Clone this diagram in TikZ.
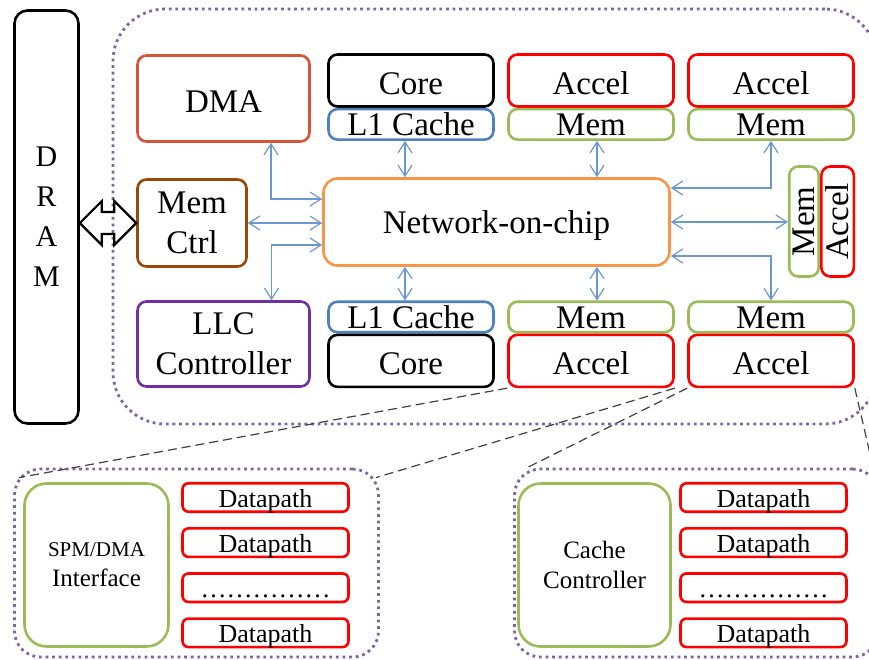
\documentclass[tikz,border=0pt]{standalone}
\usepackage{fontspec}
\setmainfont{Liberation Serif}
\usepackage{graphicx}
\usetikzlibrary{arrows.meta, positioning}
\definecolor{dmared}{RGB}{214,84,56}
\definecolor{cacheblue}{RGB}{79,129,189}
\definecolor{memgreen}{RGB}{155,187,89}
\definecolor{ctrlbrown}{RGB}{152,72,7}
\definecolor{nocorange}{RGB}{247,150,70}
\definecolor{llcpurple}{RGB}{112,48,160}
\definecolor{chippurple}{RGB}{128,100,162}
\definecolor{linkblue}{RGB}{108,152,210}
\newcommand{\chipfont}{\fontsize{33}{40}\selectfont}
\newcommand{\pathfont}{\fontsize{26}{30}\selectfont}

\begin{document}
\begin{tikzpicture}[x=1pt, y=-1pt,
   box/.style={draw, line width=2.6pt, rounded corners=9pt, inner sep=0pt,
               align=center, font=\chipfont},
   oneline/.style={text height=27pt, text depth=0pt},
   thinline/.style={text height=23pt, text depth=0pt},
   drambox/.style={box, draw=black, minimum width=64pt, minimum height=413pt,
                   rounded corners=13pt, font=\fontsize{30}{40}\selectfont},
   dmabox/.style={box, oneline, draw=dmared, minimum width=172pt, minimum height=86pt},
   corebox/.style={box, oneline, draw=black, minimum width=165pt, minimum height=52pt},
   l1box/.style={box, thinline, draw=cacheblue, minimum width=165pt, minimum height=30.5pt},
   accbox/.style={box, oneline, draw=red, minimum width=165pt, minimum height=52pt},
   membox/.style={box, thinline, draw=memgreen, minimum width=165pt, minimum height=30.5pt},
   ctrlbox/.style={box, draw=ctrlbrown, minimum width=109pt, minimum height=87pt},
   nocbox/.style={box, draw=nocorange, minimum width=346pt, minimum height=87pt,
                  rounded corners=14pt, text depth=0pt},
   llcbox/.style={box, draw=llcpurple, minimum width=172pt, minimum height=85pt},
   vmembox/.style={box, draw=memgreen, minimum width=29.5pt, minimum height=110pt},
   vaccbox/.style={box, draw=red, minimum width=32.5pt, minimum height=110pt},
   ifbox/.style={box, draw=memgreen, minimum height=163pt, rounded corners=22pt,
                 font=\fontsize{25}{30}\selectfont},
   dpbox/.style={box, draw=red, minimum width=166pt, minimum height=28.5pt,
                 rounded corners=6pt, font=\pathfont, text height=20pt, text depth=0pt},
   dotbox/.style={draw=chippurple, line width=2.8pt, dash pattern=on 2.8pt off 3.8pt,
                  rounded corners=26pt, inner sep=0pt},
   link/.style={{Straight Barb[length=11pt,width=14pt]}-{Straight Barb[length=11pt,width=14pt]},
                linkblue, line width=1.2pt},
   zoomline/.style={black!75, line width=1.2pt, dash pattern=on 9pt off 5pt},
   bus/.style={draw=black, line width=2.2pt, line join=miter}]

 \clip (0,0) rectangle (869,659);

 % chip outline
 \node[dotbox, minimum width=764pt, minimum height=415pt, rounded corners=52pt] (chip) at (495,216.5) {};

 \node[drambox] (dram) at (46.5,217) {D\\R\\A\\M};
 \node[dmabox] (dma) at (223.5,98.5) {DMA};
 \node[corebox] (core1) at (411,80.5) {Core};
 \node[l1box, below=0pt of core1] (l1a) {L1 Cache};
 \node[accbox] (acc1) at (591,80.5) {Accel};
 \node[membox, below=0pt of acc1] (mem1) {Mem};
 \node[accbox] (acc2) at (771,80.5) {Accel};
 \node[membox, below=0pt of acc2] (mem2) {Mem};

 \node[ctrlbox] (ctrl) at (192,223) {Mem\\Ctrl};
 \node[nocbox] (noc) at (496.5,222) {Network-on-chip};
 \node[vmembox] (vmem) at (804,221.5) {\rotatebox{90}{Mem}};
 \node[vaccbox, right=0pt of vmem] (vacc) {\rotatebox{90}{Accel}};

 \node[llcbox] (llc) at (223.5,344) {LLC\\Controller};
 \node[l1box] (l1b) at (411,317) {L1 Cache};
 \node[corebox, below=0pt of l1b] (core2) {Core};
 \node[membox] (mem3) at (591,317) {Mem};
 \node[accbox, below=0pt of mem3] (acc3) {Accel};
 \node[membox] (mem4) at (771,317) {Mem};
 \node[accbox, below=0pt of mem4] (acc4) {Accel};

 % DRAM <-> memory controller
 \draw[bus] (dram.east |- ctrl.west) -- ++(22,-22) -- ++(0,11) -- ([shift={(-22pt,11pt)}]ctrl.west)
   -- ++(0,-11) -- (ctrl.west) -- ++(-22,22) -- ++(0,-11) -- ([shift={(22pt,-11pt)}]dram.east |- ctrl.west)
   -- ++(0,11) -- cycle;

 % on-chip links
 \draw[link] ([xshift=47.5pt]dma.south) |- ([yshift=23pt]noc.west);
 \draw[link] (ctrl.east) -- (ctrl.east -| noc.west);
 \draw[link] ([yshift=-23pt]noc.west) -| ([xshift=48pt]llc.north);
 \draw[link] ([xshift=-6pt]l1a.south) -- ([xshift=-6pt]l1a.south |- noc.north);
 \draw[link] ([xshift=6pt]mem1.south) -- ([xshift=6pt]mem1.south |- noc.north);
 \draw[link] (mem2.south) |- ([yshift=34pt]noc.east);
 \draw[link] (noc.east) -- (noc.east -| vmem.west);
 \draw[link] ([yshift=-34pt]noc.east) -| (mem4.north);
 \draw[link] ([xshift=-6pt]l1b.north) -- ([xshift=-6pt]l1b.north |- noc.south);
 \draw[link] ([xshift=6pt]mem3.north) -- ([xshift=6pt]mem3.north |- noc.south);

 % accelerator with scratchpad
 \node[dotbox, minimum width=364pt, minimum height=188pt] (lbox) at (196.5,563) {};
 \node[ifbox, minimum width=144pt] (spm) at (96.5,565)
   {{\fontsize{21}{26}\selectfont SPM/DMA}\\Interface};
 \node[dpbox] (dpa1) at (265.5,497.5) {Datapath};
 \node[dpbox, below=14pt of dpa1] (dpa2) {Datapath};
 \node[dpbox, below=14pt of dpa2] (dpa3) {……………};
 \node[dpbox, below=14pt of dpa3] (dpa4) {Datapath};

 % accelerator with cache
 \node[dotbox, minimum width=364pt, minimum height=188pt] (rbox) at (696.5,563) {};
 \node[ifbox, minimum width=152pt] (cctl) at (594.5,565) {Cache\\Controller};
 \node[dpbox] (dpb1) at (763.5,497.5) {Datapath};
 \node[dpbox, below=14pt of dpb1] (dpb2) {Datapath};
 \node[dpbox, below=14pt of dpb2] (dpb3) {……………};
 \node[dpbox, below=14pt of dpb3] (dpb4) {Datapath};

 \draw[zoomline] (acc3.south west) -- ([shift={(6pt,-10pt)}]lbox.north west);
 \draw[zoomline] (acc3.south east) -- ([shift={(-4pt,-10pt)}]lbox.north east);
 \draw[zoomline] (acc4.south west) -- ([shift={(14pt,0pt)}]rbox.north west);
 \draw[zoomline] (acc4.south east) -- ([shift={(-6pt,-3pt)}]rbox.north east);
\end{tikzpicture}
\end{document}
